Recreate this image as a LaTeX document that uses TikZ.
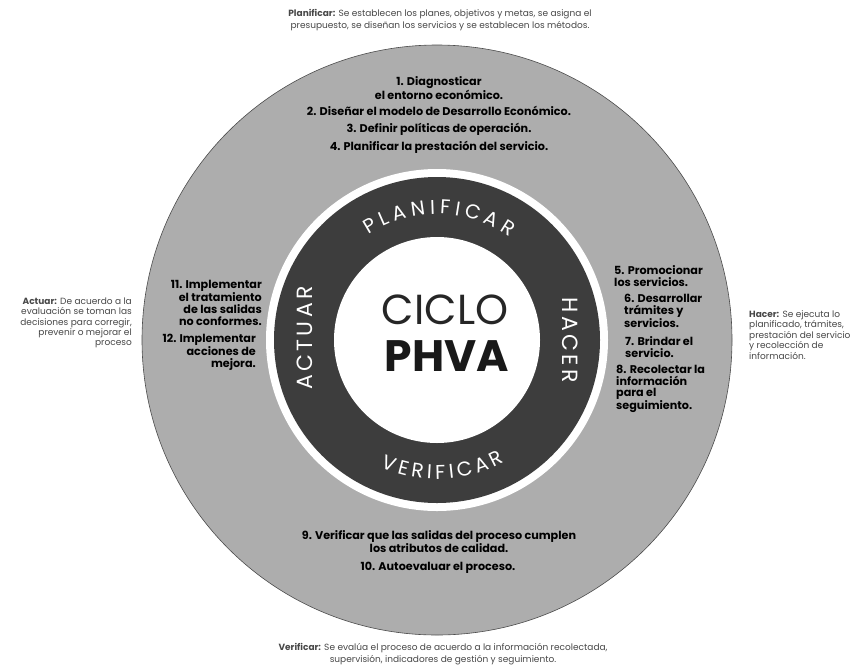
\documentclass[tikz,border=0pt]{standalone}
\usepackage{fontspec}
\setmainfont{Poppins}
\newfontfamily\ringfont[LetterSpace=15]{Poppins}
\usetikzlibrary{decorations.text}
\begin{document}
\begin{tikzpicture}[x=1pt,y=1pt,
  desc/.style={font=\fontsize{9}{12}\selectfont, text=black!72, inner sep=0pt},
  sdesc/.style={font=\fontsize{9}{10.4}\selectfont, text=black!72, inner sep=0pt},
  item/.style={font=\bfseries\fontsize{11.2}{11.8}\selectfont, text=black, inner sep=0pt},
  ringlbl/.style={font=\ringfont\fontsize{22}{22}\selectfont, text=white, inner sep=0pt}]
\useasboundingbox (0,0) rectangle (864,-667);
\coordinate (c) at (437,-340);
% discs
\fill[black!32] (c) circle (295);
\draw[black!70, line width=0.6pt] (c) circle (295);
\fill[white] (c) circle (171);
\fill[black!76] (c) circle (163);
\fill[white] (c) circle (103);
% centre title
\node[inner sep=0pt, font=\fontsize{42}{42}\selectfont, text=black!85] (ciclo) at (445,-310) {CICLO};
\node[inner sep=0pt, font=\bfseries\fontsize{44}{44}\selectfont, text=black!90] (phva) at (447,-356) {PHVA};
% ring labels
\path[decorate, decoration={text along path, text align=fit to path,
  text={|\fontsize{20}{20}\selectfont\color{white}|PLANIFICAR}}]
  (c) ++(123:126) arc (123:55:126);
\path[decorate, decoration={text along path, text align=fit to path,
  text={|\fontsize{20}{20}\selectfont\color{white}|VERIFICAR}}]
  (c) ++(246:139) arc (246:299:139);
\node[ringlbl, rotate=90] (actuar) at (305,-338) {ACTUAR};
\node[ringlbl, rotate=-90] (hacer) at (570,-340) {HACER};
% outer descriptions
\node[desc, align=center] (dplan) at (440,-20) {\textbf{Planificar:} Se establecen los planes, objetivos y metas, se asigna el\\presupuesto, se diseñan los servicios y se establecen los métodos.};
\node[sdesc, align=right, anchor=east] (dact) at (132,-323) {\textbf{Actuar:} De acuerdo a la\\evaluación se toman las\\decisiones para corregir,\\prevenir o mejorar el\\proceso};
\node[sdesc, align=left, anchor=west] (dhac) at (749,-335) {\textbf{Hacer:} Se ejecuta lo\\planificado, trámites,\\prestación del servicio\\y recolección de\\información.};
\node[desc, align=center] (dver) at (443,-654) {\textbf{Verificar:} Se evalúa el proceso de acuerdo a la información recolectada,\\supervisión, indicadores de gestión y seguimiento.};
% top items
\node[item, align=center] (i1) at (439,-88) {1. Diagnosticar\\el entorno económico.};
\node[item] (i2) at (439,-111) {2. Diseñar el modelo de Desarrollo Económico.};
\node[item] (i3) at (439,-129) {3. Definir políticas de operación.};
\node[item] (i4) at (439,-147) {4. Planificar la prestación del servicio.};
% right items
\node[item, align=left, anchor=west] (i5) at (614,-276) {5. Promocionar\\los servicios.};
\node[item, align=left, anchor=west] (i6) at (624,-311) {6. Desarrollar\\trámites y\\servicios.};
\node[item, align=left, anchor=west] (i7) at (625,-347) {7. Brindar el\\servicio.};
\node[item, align=left, anchor=west] (i8) at (616,-389) {8. Recolectar la\\información\\para el\\seguimiento.};
% left items
\node[item, align=right, anchor=east] (i11) at (262,-303) {11. Implementar\\el tratamiento\\de las salidas\\no conformes.};
\node[item, align=right, anchor=east] (i12) at (256,-352) {12. Implementar\\acciones de\\mejora.};
% bottom items
\node[item, align=center] (i9) at (439,-542) {9. Verificar que las salidas del proceso cumplen\\los atributos de calidad.};
\node[item] (i10) at (438,-568) {10. Autoevaluar el proceso.};
\end{tikzpicture}
\end{document}
